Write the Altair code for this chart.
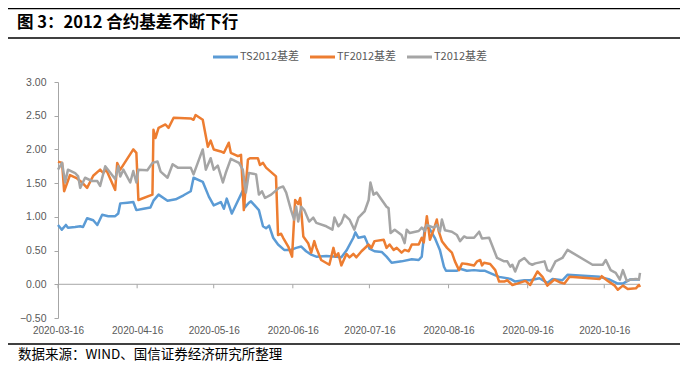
import altair as alt
import pandas as pd

START = "2020-03-16"

series_names = ["TS2012基差", "TF2012基差", "T2012基差"]
series_colors = ["#5B9BD5", "#ED7D31", "#A5A5A5"]

# day offsets from 2020-03-16 and values
ts_days = [0, 1.5, 3.1, 3.9, 6.7, 8.7, 9.8, 11.4, 13.8, 15.4, 17.3, 19.7, 22.4, 23.6, 24.4, 27.2, 29.5, 30.7, 33.5, 36.2,
           37.4, 39.4, 42.9, 46.1, 49.2, 52.0, 53.1, 56.7, 59.1, 61.0, 63.8, 65.0, 66.1, 68.1, 72.4, 73.2, 74.8, 75.6, 78.7, 80.3,
           81.5, 82.7, 84.3, 86.2, 88.6, 91.3, 93.3, 95.3, 97.2, 99.2, 101.2, 105.1, 109.1, 111.0, 113.0, 115.7, 116.5, 117.7, 120.1, 120.9,
           122.0, 124.0, 126.8, 128.7, 130.7, 134.6, 138.6, 141.3, 142.5, 143.7, 145.3, 147.6, 149.6, 151.2, 152.0, 156.3, 157.5, 160.2, 163.0, 165.4,
           167.3, 170.9, 172.8, 177.2, 179.1, 182.7, 185.0, 188.6, 191.7, 193.7, 197.6, 199.6, 212.2, 216.1, 219.3, 221.3, 224.0, 228.0]
ts_vals = [0.88, 0.81, 0.88, 0.84, 0.85, 0.86, 0.85, 0.98, 0.95, 0.88, 1.03, 1.01, 1.01, 1.05, 1.20, 1.21, 1.22, 1.10, 1.12, 1.14,
           1.24, 1.33, 1.24, 1.26, 1.32, 1.38, 1.58, 1.52, 1.30, 1.17, 1.22, 1.12, 1.27, 1.05, 1.39, 1.14, 1.21, 1.23, 1.10, 0.86,
           0.83, 0.87, 0.69, 0.59, 0.51, 0.51, 0.54, 0.56, 0.49, 0.44, 0.41, 0.42, 0.41, 0.40, 0.50, 0.69, 0.77, 0.69, 0.71, 0.64,
           0.53, 0.49, 0.48, 0.41, 0.32, 0.34, 0.37, 0.36, 0.41, 0.84, 0.84, 0.69, 0.51, 0.26, 0.20, 0.20, 0.23, 0.20, 0.21, 0.20,
           0.20, 0.14, 0.11, 0.08, 0.04, 0.06, 0.06, 0.09, 0.02, 0.08, 0.06, 0.14, 0.11, 0.07, 0.01, 0.01, 0.07, 0.07]

tf_days = [0, 1.6, 2.4, 4.7, 7.5, 9.4, 11.4, 13.8, 16.5, 17.7, 18.9, 22.4, 23.2, 24.4, 29.5, 30.7, 31.5, 37.0, 37.4, 38.2,
           39.4, 42.1, 43.3, 45.3, 52.0, 53.1, 53.9, 56.7, 58.7, 59.8, 61.0, 63.8, 65.0, 66.9, 67.7, 70.5, 71.7, 72.8, 74.4, 75.2,
           78.3, 79.1, 80.3, 81.5, 85.4, 86.2, 87.4, 88.2, 90.2, 91.7, 92.9, 94.1, 94.9, 96.1, 98.0, 99.2, 100.4, 101.2, 103.1, 106.3,
           107.9, 108.7, 109.8, 111.0, 113.0, 114.2, 115.7, 116.9, 118.9, 121.7, 122.8, 124.0, 127.6, 128.7, 129.9, 131.5, 132.7, 134.6, 135.8, 137.4,
           138.6, 141.3, 142.5, 143.3, 144.5, 145.7, 147.2, 148.4, 149.2, 150.4, 152.4, 154.3, 155.5, 157.1, 158.3, 160.2, 163.0, 164.2, 165.4, 166.1,
           166.9, 169.3, 171.3, 172.8, 174.8, 176.0, 178.0, 179.9, 183.1, 185.0, 187.8, 189.8, 191.7, 194.5, 196.5, 198.4, 200.4, 212.2, 213.0, 215.4,
           218.1, 219.3, 221.3, 223.2, 226.4, 227.6, 228.0]
tf_vals = [1.82, 1.80, 1.38, 1.62, 1.57, 1.51, 1.43, 1.61, 1.70, 1.65, 1.70, 1.40, 1.80, 1.70, 2.00, 1.95, 1.25, 1.33, 2.29, 2.17,
           2.32, 2.37, 2.32, 2.47, 2.46, 2.44, 2.51, 2.44, 2.04, 2.13, 2.00, 1.97, 1.95, 2.10, 1.95, 1.90, 1.92, 1.10, 1.85, 1.87,
           1.87, 1.77, 1.80, 1.73, 1.60, 0.73, 0.75, 0.69, 0.56, 0.41, 1.25, 1.19, 1.28, 0.71, 0.61, 0.47, 0.64, 0.54, 0.36, 0.29,
           0.54, 0.41, 0.46, 0.28, 0.45, 0.40, 0.45, 0.40, 0.49, 0.59, 0.54, 0.64, 0.66, 0.54, 0.59, 0.51, 0.54, 0.47, 0.51, 0.49,
           0.59, 0.59, 0.69, 0.62, 1.01, 0.66, 0.81, 0.96, 0.78, 0.64, 0.54, 0.47, 0.34, 0.21, 0.31, 0.30, 0.28, 0.34, 0.36, 0.28,
           0.32, 0.30, 0.21, 0.04, 0.04, 0.06, -0.01, 0.01, 0.05, -0.01, 0.19, 0.11, -0.02, 0.07, 0.03, 0.01, 0.11, 0.08, 0.12, 0.05,
           -0.02, -0.08, -0.02, -0.07, -0.06, -0.01, -0.04]

t_days = [0, 1.6, 2.8, 3.9, 6.7, 7.9, 8.7, 10.6, 13.4, 15.4, 16.5, 18.5, 22.4, 23.6, 24.4, 25.6, 28.3, 29.5, 30.7, 31.5,
          35.0, 37.0, 39.0, 40.2, 42.9, 44.9, 46.9, 52.0, 53.1, 55.9, 56.7, 57.9, 59.8, 61.0, 62.6, 64.6, 65.7, 67.7, 70.9, 72.4,
          73.6, 74.8, 77.6, 78.7, 79.9, 81.1, 83.5, 86.6, 88.2, 89.4, 91.3, 92.5, 93.3, 94.1, 95.3, 96.5, 98.4, 100.0, 101.2, 105.1,
          107.5, 108.3, 109.8, 111.0, 112.2, 114.2, 116.1, 117.7, 120.1, 121.7, 122.4, 123.6, 124.8, 128.7, 129.5, 130.3, 131.9, 134.6, 135.8, 136.6,
          137.8, 141.3, 142.5, 143.7, 144.5, 145.7, 147.2, 148.4, 149.6, 150.4, 151.6, 154.3, 156.3, 157.5, 159.1, 160.2, 163.0, 165.0, 166.1, 168.9,
          172.0, 174.8, 176.0, 177.2, 178.0, 179.1, 180.7, 182.7, 184.6, 185.8, 187.0, 190.6, 191.7, 192.9, 194.9, 197.6, 199.6, 209.4, 213.4, 214.6,
          216.5, 218.5, 220.1, 221.3, 222.8, 224.4, 226.4, 227.6, 228.0]
t_vals = [1.70, 1.80, 1.51, 1.70, 1.65, 1.60, 1.43, 1.58, 1.53, 1.53, 1.46, 1.75, 1.56, 1.75, 1.60, 1.70, 1.51, 1.68, 1.51, 1.70,
          1.69, 1.80, 1.82, 1.67, 1.58, 1.78, 1.73, 1.73, 1.63, 1.92, 2.00, 1.70, 1.87, 1.70, 1.76, 1.51, 1.65, 1.86, 1.80, 1.70,
          1.36, 1.65, 1.63, 1.33, 1.38, 1.28, 1.33, 1.43, 1.45, 1.36, 1.10, 0.96, 1.15, 0.93, 1.15, 1.10, 0.93, 0.99, 0.91, 0.86,
          0.81, 0.99, 0.86, 0.91, 1.03, 0.96, 0.81, 0.99, 1.08, 1.25, 1.51, 1.33, 1.36, 1.15, 1.13, 0.76, 0.81, 0.73, 0.61, 0.81,
          0.76, 0.79, 0.84, 0.79, 0.88, 0.86, 0.84, 0.88, 0.78, 0.96, 0.80, 0.78, 0.73, 0.64, 0.71, 0.69, 0.69, 0.78, 0.68, 0.69,
          0.39, 0.34, 0.34, 0.26, 0.29, 0.19, 0.34, 0.39, 0.31, 0.29, 0.31, 0.34, 0.21, 0.19, 0.34, 0.39, 0.51, 0.29, 0.29, 0.36,
          0.21, 0.17, 0.07, 0.21, 0.05, 0.07, 0.08, 0.07, 0.17]

tick_dates = ["2020-03-16", "2020-04-16", "2020-05-16", "2020-06-16",
              "2020-07-16", "2020-08-16", "2020-09-16", "2020-10-16"]
y_ticks = [-0.5, 0.0, 0.5, 1.0, 1.5, 2.0, 2.5, 3.0]

title_text = "图 3：2012 合约基差不断下行"
source_text = "数据来源：WIND、国信证券经济研究所整理"

# ---------------- build tables ----------------
start = pd.Timestamp(START)
series_frames = []
for name, days, vals in zip(series_names, [ts_days, tf_days, t_days], [ts_vals, tf_vals, t_vals]):
    series_frames.append(pd.DataFrame({
        "date": [start + pd.Timedelta(days=d) for d in days],
        "value": vals,
        "idx": list(range(len(vals))),
    }))
tick_df = pd.DataFrame({"date": [pd.Timestamp(d) for d in tick_dates]})
zero_df = pd.DataFrame({"value": [0.0]})
one = pd.DataFrame({"a": [0]})

# ---------------- layout ----------------
W, H = 582, 236
Y0 = H * 3.0 / 3.5
LABEL_FONT = "Liberation Sans"
AXIS_GREY = "#A6A6A6"
TEXT_GREY = "#595959"

x_scale = alt.Scale(domain=[alt.DateTime(year=2020, month=3, date=16),
                            alt.DateTime(year=2020, month=10, date=30)])
y_scale = alt.Scale(domain=[-0.5, 3.0], nice=False, zero=False)

x_axis = alt.Axis(values=[alt.DateTime(year=int(d[:4]), month=int(d[5:7]), date=int(d[8:])) for d in tick_dates],
                  format="%Y-%m-%d", domain=False, ticks=False, grid=False, title=None,
                  labelFlush=False, labelOverlap=False,
                  labelFont=LABEL_FONT, labelFontSize=10, labelColor=TEXT_GREY, labelPadding=7)
y_axis = alt.Axis(values=y_ticks, format=".2f", grid=False, title=None, domainColor=AXIS_GREY,
                  tickColor=AXIS_GREY, tickSize=4, labelFont=LABEL_FONT, labelFontSize=10.5,
                  labelOverlap=False, labelFlush=False,
                  labelColor=TEXT_GREY, labelPadding=8)

xe = alt.X("date:T", scale=x_scale, axis=x_axis)
ye = alt.Y("value:Q", scale=y_scale, axis=y_axis)

layers = []
# zero line with ticks
layers.append(alt.Chart(zero_df).mark_rule(color=AXIS_GREY, strokeWidth=1).encode(
    y=ye, x=alt.value(0), x2=alt.value(W)))
layers.append(alt.Chart(tick_df).mark_rule(color=AXIS_GREY, strokeWidth=1).encode(
    x=xe, y=alt.value(Y0), y2=alt.value(Y0 + 4)))

for name, color, frame in zip(series_names, series_colors, series_frames):
    layers.append(alt.Chart(frame).mark_line(color=color, strokeWidth=2.5, strokeJoin="round").encode(
        x=xe, y=ye, order="idx:Q"))

# legend
legend_x = [155, 252, 349]
for name, color, lx in zip(series_names, series_colors, legend_x):
    layers.append(alt.Chart(one).mark_rule(color=color, strokeWidth=3).encode(
        x=alt.value(lx), x2=alt.value(lx + 25), y=alt.value(-25)))
    layers.append(alt.Chart(one).mark_text(align="left", baseline="middle", font="Noto Sans CJK SC",
                                           fontSize=11, color=TEXT_GREY).encode(
        x=alt.value(lx + 27), y=alt.value(-25), text=alt.value(name)))

# frame lines, title, source
for yy, sw in [(-73.5, 1.5), (-44, 1.5), (262, 1.5)]:
    layers.append(alt.Chart(one).mark_rule(color="#000000", strokeWidth=sw).encode(
        x=alt.value(-50), x2=alt.value(W + 40), y=alt.value(yy)))
layers.append(alt.Chart(one).mark_text(align="left", baseline="middle", font="Noto Sans CJK SC",
                                       fontSize=16.5, fontWeight="bold", color="#000000").encode(
    x=alt.value(-41), y=alt.value(-59.5), text=alt.value(title_text)))
layers.append(alt.Chart(one).mark_text(align="left", baseline="middle", font="Noto Sans CJK SC",
                                       fontSize=13.5, color="#000000").encode(
    x=alt.value(-40), y=alt.value(273), text=alt.value(source_text)))

chart = alt.layer(*layers).properties(
    width=W, height=H,
    autosize=alt.AutoSizeParams(type="none"),
    padding={"left": 50, "top": 74, "right": 40, "bottom": 46},
).configure_view(stroke=None).configure_axisY(labelOverlap=False)

chart.save("out.html", embed_options={"renderer": "svg", "actions": False})
